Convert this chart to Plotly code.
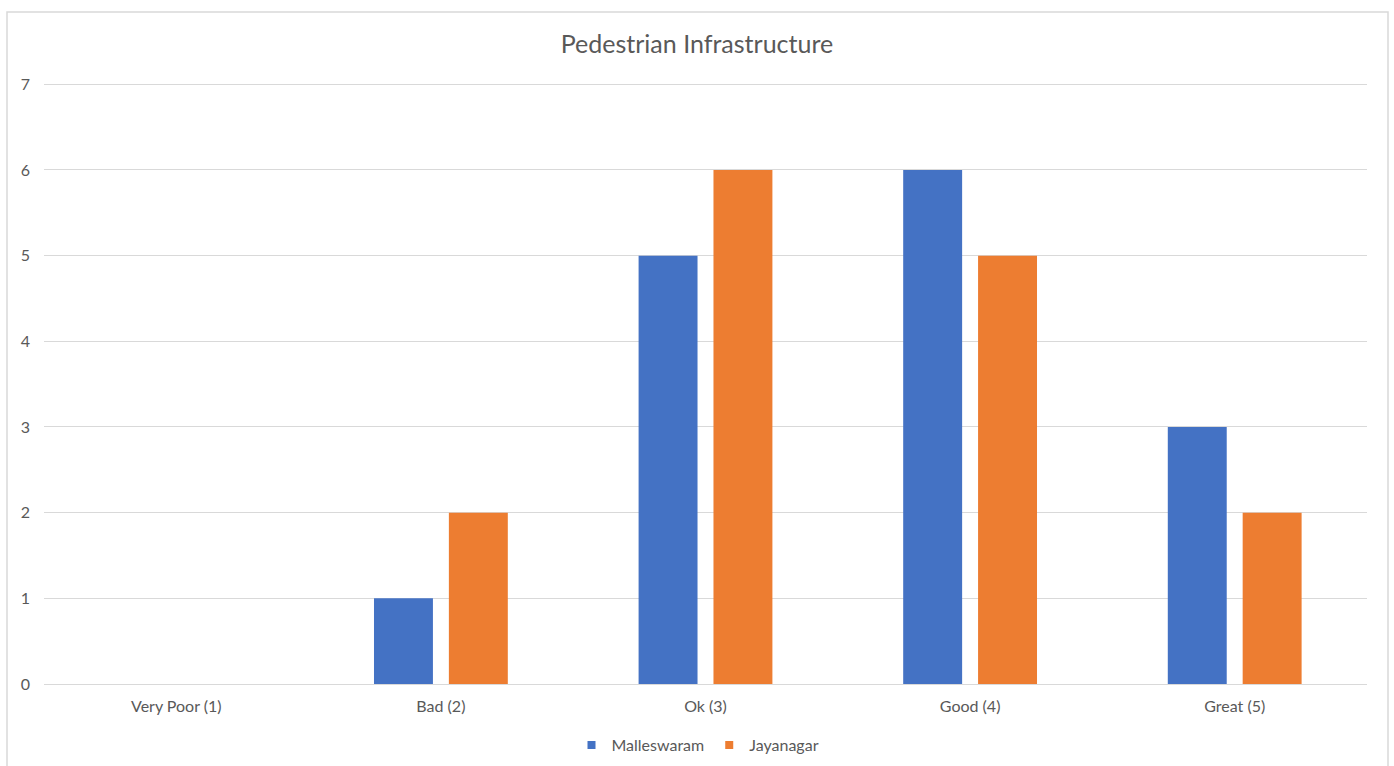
import plotly.graph_objects as go

categories = ["Very Poor (1)", "Bad (2)", "Ok (3)", "Good (4)", "Great (5)"]
malleswaram = [0, 1, 5, 6, 3]
jayanagar = [0, 2, 6, 5, 2]
series_names = ["Malleswaram", "Jayanagar"]
series_colors = ["#4472C4", "#ED7D31"]

W, H = 1394, 766
ML, MR, MT, MB = 44, 27, 83, 82
plot_w = W - ML - MR
plot_h = H - MT - MB

def px_x(px):
    return (px - ML) / plot_w

def px_y(py):
    return (H - MB - py) / plot_h

FONT = "Lato, Carlito, Calibri, sans-serif"
TXT = "#595959"
GRID = "#d9d9d9"

fig = go.Figure()
for name, vals, color in zip(series_names, [malleswaram, jayanagar], series_colors):
    fig.add_trace(go.Bar(name=name, x=categories, y=vals, legendgroup=name,
                         showlegend=False,
                         marker=dict(color=color, line=dict(width=0))))
# small square swatches for the legend
for name, color in zip(series_names, series_colors):
    fig.add_trace(go.Scatter(name=name, x=[None], y=[None], mode="markers",
                             legendgroup=name, showlegend=True,
                             marker=dict(symbol="square", size=8, color=color)))

fig.update_layout(
    width=W, height=H,
    margin=dict(l=ML, r=MR, t=MT, b=MB, pad=0),
    paper_bgcolor="white", plot_bgcolor="white",
    barmode="group", bargap=0.434, bargroupgap=0.213,
    font=dict(family=FONT, color=TXT, size=16),
    title=dict(text="Pedestrian Infrastructure", x=0.5, xanchor="center",
               y=1 - 44 / H, yanchor="middle",
               font=dict(family=FONT, size=25, color=TXT)),
    showlegend=True,
    legend=dict(orientation="h", x=px_x(698), xanchor="center",
                yref="container", y=1 - 745 / H, yanchor="middle",
                font=dict(family=FONT, size=16, color=TXT),
                itemwidth=30, tracegroupgap=0, bgcolor="rgba(0,0,0,0)"),
    xaxis=dict(showgrid=False, showline=False, zeroline=False,
               ticks="", ticklabelstandoff=11,
               tickfont=dict(family=FONT, size=16, color=TXT)),
    yaxis=dict(range=[0, 7.015], tickvals=[0, 1, 2, 3, 4, 5, 6, 7],
               showgrid=True, gridcolor=GRID,
               gridwidth=1, zeroline=True, zerolinecolor=GRID, zerolinewidth=1,
               showline=False, ticks="", ticklabelstandoff=13,
               tickfont=dict(family=FONT, size=16, color=TXT)),
)

# chart area border
fig.add_shape(type="rect", xref="paper", yref="paper",
              x0=px_x(7), x1=px_x(1388), y0=px_y(775), y1=px_y(12),
              line=dict(color=GRID, width=1.5), fillcolor="rgba(0,0,0,0)",
              layer="below")

fig.write_html("out.html")
